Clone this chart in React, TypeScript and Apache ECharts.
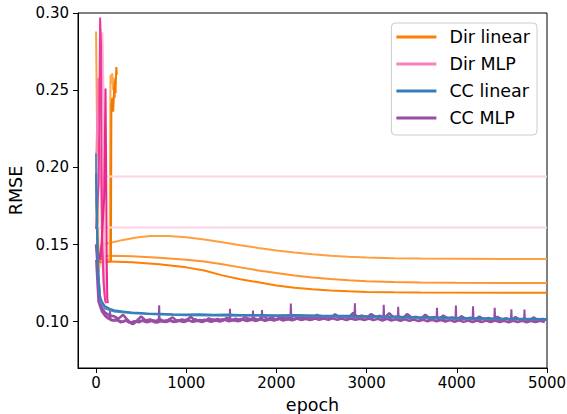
import React, { useEffect, useRef } from "react";
import * as echarts from "echarts";

// ---- Data ----
const xTicks = [0, 1000, 2000, 3000, 4000, 5000];
const yTicks = [0.1, 0.15, 0.2, 0.25, 0.3];
const legendNames = ["Dir linear", "Dir MLP", "CC linear", "CC MLP"];

// Dir linear runs
const dirLinearRun1 = [[0,0.288],[15,0.2],[30,0.132],[60,0.15],[150,0.151],[300,0.153],[450,0.1545],[600,0.1555],[800,0.1555],[1000,0.1547],[1200,0.1532],[1400,0.1515],[1600,0.1496],[1800,0.1478],[2000,0.1462],[2200,0.1448],[2400,0.1437],[2600,0.1428],[2800,0.1421],[3000,0.1416],[3300,0.1411],[3600,0.1409],[4000,0.1408],[4500,0.1407],[5000,0.1407]];
const dirLinearRun2 = [[0,0.21],[20,0.15],[40,0.1425],[150,0.1428],[400,0.1424],[700,0.1415],[1000,0.1402],[1200,0.139],[1400,0.1372],[1600,0.1352],[1800,0.1332],[2000,0.1315],[2200,0.13],[2400,0.1287],[2600,0.1276],[2800,0.1268],[3000,0.1262],[3300,0.1257],[3600,0.1254],[4000,0.1252],[5000,0.1251]];
const dirLinearRun3 = [[0,0.2],[25,0.145],[40,0.139],[150,0.139],[400,0.1385],[700,0.1372],[1000,0.1352],[1200,0.1332],[1400,0.13],[1600,0.1275],[1800,0.1255],[2000,0.1235],[2200,0.122],[2400,0.121],[2600,0.1202],[2800,0.1197],[3000,0.1193],[3300,0.119],[3600,0.1189],[5000,0.1188]];
const dirLinearRun4 = [[0,0.19],[20,0.145],[40,0.14],[150,0.1405],[155,0.2],[160,0.26],[170,0.254],[180,0.261],[190,0.25],[200,0.258],[210,0.245],[215,0.25]];
const dirLinearRun5 = [[0,0.185],[20,0.142],[40,0.1385],[165,0.139],[170,0.24],[180,0.245],[190,0.236],[200,0.25],[210,0.256],[215,0.248],[225,0.265],[230,0.26]];

// Dir MLP runs
const dirMlpRun1 = [[0,0.16],[30,0.19],[45,0.297],[55,0.28],[62,0.2],[70,0.15],[85,0.125],[100,0.114],[110,0.112]];
const dirMlpRun2 = [[0,0.15],[50,0.14],[90,0.18],[105,0.251],[112,0.2],[118,0.14],[125,0.115],[130,0.112]];
const dirMlpRun3 = [[0,0.2],[25,0.258],[40,0.24],[55,0.19],[70,0.14],[90,0.12],[105,0.114]];
const dirMlpRun4 = [[0,0.18],[50,0.22],[70,0.2875],[80,0.26],[90,0.16],[100,0.125],[110,0.115]];
const dirMlpRun5 = [[0,0.21],[20,0.195],[40,0.194],[5000,0.194]];
const dirMlpRun6 = [[0,0.17],[20,0.162],[40,0.161],[5000,0.161]];

// CC linear runs
const ccLinearRun1 = [[0,0.196],[10,0.16],[20,0.135],[35,0.12],[50,0.115],[75,0.112],[100,0.11],[150,0.1085],[200,0.1075],[300,0.1066],[400,0.106],[500,0.1056],[600,0.1052],[700,0.1051],[850,0.1048],[1000,0.1047],[1150,0.1049],[1300,0.1045],[1450,0.1046],[1600,0.1043],[1800,0.1044],[2000,0.1042],[2200,0.1043],[2500,0.104],[2800,0.1038],[3000,0.1035],[3250,0.1033],[3500,0.103],[3750,0.1028],[4000,0.1025],[4250,0.1023],[4500,0.102],[4750,0.1019],[5000,0.1018]];
const ccLinearRun2 = [[0,0.209],[10,0.17],[25,0.13],[50,0.113],[100,0.1085],[200,0.1066],[400,0.1055],[700,0.1046],[1000,0.1042],[1500,0.1039],[2000,0.1037],[2500,0.1035],[3000,0.103],[3500,0.1025],[4000,0.102],[4500,0.1016],[5000,0.1014]];

// CC MLP runs
const ccMlpRun1Epochs = [0,50,100,150,200,250,300,350,400,450,500,550,600,650,700,750,800,850,900,950,1000,1050,1100,1150,1200,1250,1300,1350,1400,1450,1500,1550,1600,1650,1700,1750,1800,1850,1900,1950,2000,2050,2100,2150,2200,2250,2300,2350,2400,2450,2500,2550,2600,2650,2700,2750,2800,2850,2900,2950,3000,3050,3100,3150,3200,3250,3300,3350,3400,3450,3500,3550,3600,3650,3700,3750,3800,3850,3900,3950,4000,4050,4100,4150,4200,4250,4300,4350,4400,4450,4500,4550,4600,4650,4700,4750,4800,4850,4900,4950,5000];
const ccMlpRun1Values = [0.15,0.11,0.106,0.104,0.1035,0.102,0.1045,0.101,0.0985,0.1005,0.1035,0.1008,0.1015,0.0995,0.1018,0.1005,0.1012,0.1028,0.1002,0.1015,0.1008,0.1032,0.1005,0.1012,0.1003,0.1022,0.101,0.1018,0.1006,0.1025,0.1012,0.102,0.1008,0.103,0.1015,0.1022,0.1012,0.104,0.1018,0.1025,0.1015,0.1035,0.102,0.1028,0.1016,0.1042,0.1022,0.103,0.102,0.1045,0.1025,0.1032,0.1022,0.1048,0.1028,0.1035,0.1025,0.1058,0.1028,0.104,0.1025,0.105,0.103,0.1038,0.1024,0.1055,0.1028,0.1036,0.1022,0.105,0.1026,0.1032,0.1018,0.1045,0.1022,0.103,0.1016,0.104,0.102,0.1028,0.1014,0.1036,0.1018,0.1026,0.1012,0.1034,0.1016,0.1024,0.101,0.1032,0.1014,0.1022,0.1008,0.103,0.1012,0.102,0.1006,0.1028,0.101,0.1018,0.1012];
const ccMlpRun2 = [[0,0.14],[25,0.113],[60,0.107],[100,0.1035],[150,0.1025],[155,0.107],[160,0.102],[200,0.1005],[250,0.101],[300,0.0998],[350,0.1012],[410,0.0982],[450,0.1002],[500,0.1008],[560,0.0995],[600,0.1012],[695,0.1005],[700,0.1106],[705,0.1008],[750,0.0998],[800,0.101],[860,0.0996],[900,0.1012],[960,0.1],[1000,0.1015],[1060,0.1001],[1100,0.1018],[1150,0.1003],[1200,0.1015],[1250,0.1002],[1300,0.1016],[1350,0.1004],[1400,0.1018],[1480,0.1008],[1485,0.1084],[1490,0.101],[1550,0.1006],[1600,0.102],[1650,0.1008],[1700,0.1022],[1735,0.101],[1740,0.1072],[1745,0.1012],[1800,0.101],[1835,0.1015],[1840,0.1075],[1845,0.1014],[1900,0.1012],[1950,0.1026],[2000,0.101],[2050,0.1024],[2100,0.1012],[2155,0.102],[2160,0.1118],[2165,0.102],[2200,0.1014],[2250,0.1028],[2300,0.1016],[2350,0.103],[2400,0.1014],[2450,0.1032],[2500,0.1018],[2550,0.1034],[2600,0.1016],[2650,0.1036],[2700,0.102],[2750,0.1034],[2800,0.1018],[2865,0.1025],[2870,0.112],[2875,0.1026],[2950,0.102],[3000,0.1036],[3050,0.1018],[3100,0.1034],[3185,0.1022],[3190,0.111],[3195,0.1024],[3250,0.1018],[3300,0.1032],[3345,0.102],[3350,0.1097],[3355,0.1022],[3400,0.1016],[3450,0.103],[3500,0.1014],[3550,0.1032],[3600,0.1012],[3650,0.1028],[3700,0.1014],[3775,0.102],[3780,0.109],[3785,0.1018],[3850,0.1012],[3900,0.1026],[3985,0.1016],[3990,0.1104],[3995,0.1018],[4050,0.101],[4100,0.1024],[4175,0.1014],[4180,0.11],[4185,0.1016],[4250,0.1008],[4300,0.1022],[4350,0.1006],[4415,0.1016],[4420,0.109],[4425,0.1014],[4500,0.1004],[4550,0.102],[4600,0.1006],[4605,0.108],[4610,0.1008],[4700,0.1018],[4745,0.1005],[4750,0.1078],[4755,0.1008],[4800,0.1016],[4850,0.1002],[4900,0.1018],[4950,0.1004],[5000,0.1014]];
const ccMlpRun3Epochs = [25,75,125,175,225,275,325,375,425,475,525,575,625,675,725,775,825,875,925,975,1025,1075,1125,1175,1225,1275,1325,1375,1425,1475,1525,1575,1625,1675,1725,1775,1825,1875,1925,1975,2025,2075,2125,2175,2225,2275,2325,2375,2425,2475,2525,2575,2625,2675,2725,2775,2825,2875,2925,2975,3025,3075,3125,3175,3225,3275,3325,3375,3425,3475,3525,3575,3625,3675,3725,3775,3825,3875,3925,3975,4025,4075,4125,4175,4225,4275,4325,4375,4425,4475,4525,4575,4625,4675,4725,4775,4825,4875,4925,4975];
const ccMlpRun3Values = [0.118,0.106,0.1025,0.1008,0.1015,0.0995,0.1008,0.0992,0.1003,0.0996,0.101,0.0998,0.1006,0.0994,0.1004,0.0997,0.1008,0.0999,0.1006,0.0997,0.1009,0.0999,0.1006,0.0998,0.101,0.1,0.1008,0.1001,0.1012,0.1002,0.101,0.1003,0.1014,0.1004,0.1012,0.1005,0.1016,0.1006,0.1014,0.1007,0.1018,0.1008,0.1016,0.1009,0.102,0.101,0.1018,0.1011,0.1021,0.1012,0.102,0.1012,0.1022,0.1012,0.102,0.1011,0.1021,0.1012,0.1019,0.101,0.102,0.101,0.1018,0.1008,0.1018,0.1008,0.1016,0.1006,0.1016,0.1005,0.1014,0.1004,0.1013,0.1003,0.1012,0.1002,0.1011,0.1001,0.101,0.1,0.1009,0.0999,0.1008,0.0998,0.1008,0.0998,0.1007,0.0997,0.1007,0.0997,0.1006,0.0996,0.1006,0.0997,0.1006,0.0996,0.1005,0.0997,0.1006,0.0998];

const FONT = "DejaVu Sans";

function line(name: string, data: number[][], color: string, width = 2) {
  return {
    type: "line",
    name,
    data,
    showSymbol: false,
    symbol: "none",
    silent: true,
    lineStyle: { color, width },
    itemStyle: { color },
    emphasis: { disabled: true },
  };
}

export default function App() {
  const ref = useRef<HTMLDivElement>(null);
  useEffect(() => {
    if (!ref.current) return;
    const chart = echarts.init(ref.current, null, { renderer: "svg" });
    const ccMlpRun1 = ccMlpRun1Epochs.map((e, i) => [e, ccMlpRun1Values[i]]);
    const ccMlpRun3 = ccMlpRun3Epochs.map((e, i) => [e, ccMlpRun3Values[i]]);
    chart.setOption({
      animation: false,
      backgroundColor: "#ffffff",
      grid: {
        left: 78,
        right: 20,
        top: 13,
        bottom: 46,
        show: true,
        containLabel: false,
        outerBoundsMode: "none",
        borderColor: "#000",
        borderWidth: 1,
        backgroundColor: "transparent",
      },
      legend: {
        orient: "vertical",
        right: 30,
        top: 23,
        icon: "rect",
        itemWidth: 40,
        itemHeight: 3,
        itemGap: 9,
        padding: [5, 7, 8, 5],
        backgroundColor: "rgba(255,255,255,0.8)",
        borderColor: "#cccccc",
        borderWidth: 1,
        borderRadius: 4,
        textStyle: { fontFamily: FONT, fontSize: 17.5, color: "#000", padding: [0, 0, 0, 8] },
        data: [
          { name: legendNames[0], itemStyle: { color: "#ff7f00" } },
          { name: legendNames[1], itemStyle: { color: "#f781bf" } },
          { name: legendNames[2], itemStyle: { color: "#377eb8" } },
          { name: legendNames[3], itemStyle: { color: "#984ea3" } },
        ],
      },
      xAxis: {
        type: "value",
        min: -200,
        max: 5000,
        name: "epoch",
        nameLocation: "middle",
        nameGap: 28,
        nameTextStyle: { fontFamily: FONT, fontSize: 17.5, color: "#000" },
        axisLine: { show: true, onZero: false, lineStyle: { color: "#000", width: 1 } },
        axisTick: { show: true, inside: false, length: 5, lineStyle: { color: "#000" }, customValues: xTicks },
        axisLabel: {
          fontFamily: FONT,
          fontSize: 15,
          color: "#000",
          margin: 7,
          customValues: xTicks,
          formatter: (v: number) => String(v),
        },
        splitLine: { show: false },
      },
      yAxis: {
        type: "value",
        min: 0.07,
        max: 0.3,
        name: "RMSE",
        nameLocation: "middle",
        nameGap: 44,
        nameTextStyle: { fontFamily: FONT, fontSize: 17.5, color: "#000" },
        axisLine: { show: true, onZero: false, lineStyle: { color: "#000", width: 1 } },
        axisTick: { show: true, inside: false, length: 5, lineStyle: { color: "#000" }, customValues: yTicks },
        axisLabel: {
          fontFamily: FONT,
          fontSize: 15,
          color: "#000",
          margin: 9,
          customValues: yTicks,
          formatter: (v: number) => v.toFixed(2),
        },
        splitLine: { show: false },
      },
      series: [
        line("Dir linear", dirLinearRun3, "#ff7f00"),
        line("Dir linear", dirLinearRun2, "#ff9430"),
        line("Dir linear", dirLinearRun1, "#ffa040"),
        line("Dir linear", dirLinearRun4, "#ffa850"),
        line("Dir linear", dirLinearRun5, "#f07a00"),
        line("Dir MLP", dirMlpRun5, "#fdd3e7"),
        line("Dir MLP", dirMlpRun6, "#fdd3e7"),
        line("Dir MLP", dirMlpRun3, "#f781bf"),
        line("Dir MLP", dirMlpRun4, "#fbb6d9"),
        line("Dir MLP", dirMlpRun1, "#ee3a97"),
        line("Dir MLP", dirMlpRun2, "#e8288a"),
        line("CC MLP", ccMlpRun3, "#984ea3", 2.5),
        line("CC MLP", ccMlpRun1, "#984ea3", 2.5),
        line("CC MLP", ccMlpRun2, "#984ea3", 2),
        line("CC linear", ccLinearRun2, "#4a8bc2", 2),
        line("CC linear", ccLinearRun1, "#377eb8", 2),
      ],
    });
    return () => chart.dispose();
  }, []);
  return (
    <div
      ref={ref}
      style={{ position: "absolute", left: 0, top: 0, width: 567, height: 414 }}
    />
  );
}
